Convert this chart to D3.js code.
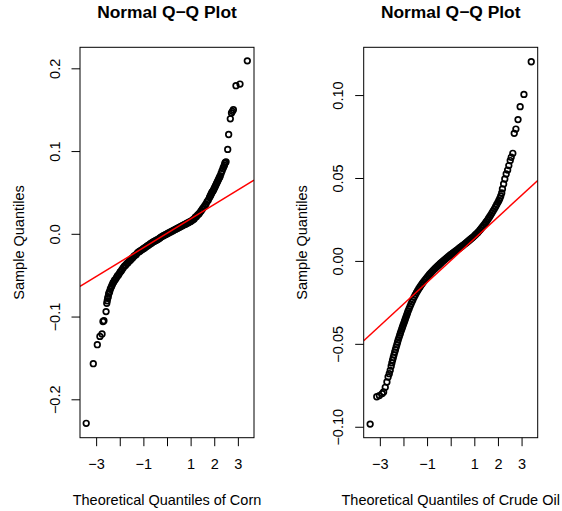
<!DOCTYPE html>
<html>
<head>
<meta charset="utf-8">
<script src="https://cdn.jsdelivr.net/npm/d3@7"></script>
<style>
  body { margin: 0; background: #fff; }
  svg { display: block; font-family: "Liberation Sans", Arial, sans-serif; }
</style>
</head>
<body>
<div id="chart"></div>
<script>
// [theoretical quantile, sample quantile]
const cornPoints = [
  [-3.42, -0.229], [-3.12, -0.157], [-2.95, -0.134], [-2.84, -0.124], [-2.75, -0.121],
  [-2.71, -0.106], [-2.67, -0.105], [-2.58, -0.094], [-2.55, -0.084],
  [-2.53, -0.081], [-2.51, -0.078], [-2.49, -0.076], [-2.47, -0.073], [-2.45, -0.071],
  [-2.43, -0.070], [-2.40, -0.067], [-2.37, -0.065], [-2.34, -0.063], [-2.31, -0.061],
  [-2.28, -0.059], [-2.25, -0.058], [-2.22, -0.056], [-2.18, -0.055], [-2.14, -0.053],
  [-2.10, -0.051], [-2.06, -0.050], [-2.02, -0.048], [-1.98, -0.046], [-1.94, -0.045],
  [-1.90, -0.043], [-1.85, -0.041], [-1.80, -0.039], [-1.75, -0.038], [-1.70, -0.036],
  [-1.65, -0.035], [-1.60, -0.033], [-1.55, -0.032], [-1.50, -0.030], [-1.45, -0.029],
  [-1.40, -0.027], [-1.35, -0.026], [-1.30, -0.025], [-1.25, -0.023], [-1.20, -0.022],
  [-1.15, -0.021], [-1.10, -0.020], [-1.05, -0.019], [-1.00, -0.018], [-0.95, -0.017],
  [-0.90, -0.016], [-0.85, -0.015], [-0.80, -0.014], [-0.75, -0.013], [-0.70, -0.012],
  [-0.65, -0.011], [-0.60, -0.010], [-0.55, -0.0093], [-0.50, -0.0085], [-0.45, -0.0078],
  [-0.40, -0.0070], [-0.35, -0.0060], [-0.30, -0.0050], [-0.25, -0.0040], [-0.20, -0.0030],
  [-0.15, -0.0023], [-0.10, -0.0015], [-0.05, -0.0008], [0.00, 0.0000], [0.05, 0.0008],
  [0.10, 0.0015], [0.15, 0.0023], [0.20, 0.0030], [0.25, 0.0038], [0.30, 0.0045],
  [0.35, 0.0053], [0.40, 0.0060], [0.45, 0.0068], [0.50, 0.0075], [0.55, 0.0083],
  [0.60, 0.0090], [0.65, 0.0098], [0.70, 0.0105], [0.75, 0.0113], [0.80, 0.0120],
  [0.85, 0.0128], [0.90, 0.0135], [0.95, 0.0143], [1.00, 0.0150], [1.05, 0.016],
  [1.10, 0.017], [1.15, 0.018], [1.20, 0.020], [1.25, 0.021], [1.30, 0.023],
  [1.35, 0.024], [1.40, 0.026], [1.45, 0.028], [1.50, 0.030], [1.55, 0.032],
  [1.60, 0.034], [1.65, 0.036], [1.70, 0.039], [1.75, 0.041], [1.80, 0.044],
  [1.83, 0.0455], [1.85, 0.047], [1.88, 0.0485], [1.90, 0.050], [1.93, 0.051],
  [1.95, 0.052], [1.98, 0.0535], [2.00, 0.055], [2.03, 0.0565], [2.05, 0.058],
  [2.08, 0.0595], [2.10, 0.061], [2.13, 0.0625], [2.15, 0.064], [2.18, 0.0655],
  [2.20, 0.067], [2.23, 0.0685], [2.25, 0.070], [2.29, 0.073], [2.33, 0.076],
  [2.37, 0.079], [2.40, 0.081], [2.43, 0.083], [2.45, 0.085], [2.47, 0.0862],
  [2.50, 0.087], [2.57, 0.102], [2.61, 0.120], [2.68, 0.139], [2.73, 0.146],
  [2.77, 0.148], [2.81, 0.150], [2.92, 0.179], [3.09, 0.181], [3.40, 0.209]
];

const oilPoints = [
  [-3.41, -0.0984], [-3.13, -0.0819], [-3.02, -0.0812], [-2.90, -0.0800], [-2.84, -0.0790],
  [-2.77, -0.0762], [-2.70, -0.0730], [-2.65, -0.0700], [-2.60, -0.0680], [-2.56, -0.0660],
  [-2.52, -0.0635], [-2.49, -0.0615], [-2.46, -0.0598], [-2.43, -0.0582], [-2.40, -0.0566],
  [-2.37, -0.0550], [-2.34, -0.0535], [-2.31, -0.0520], [-2.28, -0.0505], [-2.25, -0.0490],
  [-2.22, -0.0476], [-2.19, -0.0462], [-2.16, -0.0449], [-2.13, -0.0436], [-2.10, -0.0423],
  [-2.07, -0.0410], [-2.04, -0.0398], [-2.01, -0.0386], [-1.98, -0.0374], [-1.95, -0.0362],
  [-1.92, -0.0350], [-1.89, -0.0338], [-1.86, -0.0326], [-1.83, -0.0314], [-1.80, -0.0302],
  [-1.76, -0.0288], [-1.72, -0.0274], [-1.68, -0.0260], [-1.64, -0.0247], [-1.60, -0.0234],
  [-1.55, -0.0219], [-1.50, -0.0205], [-1.45, -0.0192], [-1.40, -0.0180], [-1.35, -0.0168],
  [-1.30, -0.0157], [-1.25, -0.0146], [-1.20, -0.0136], [-1.15, -0.0126], [-1.10, -0.0117],
  [-1.05, -0.0108], [-1.00, -0.0099], [-0.95, -0.0090], [-0.90, -0.0082], [-0.85, -0.0074],
  [-0.80, -0.0066], [-0.75, -0.0058], [-0.70, -0.0051], [-0.65, -0.0044], [-0.60, -0.0037],
  [-0.55, -0.0030], [-0.50, -0.0024], [-0.45, -0.0017], [-0.40, -0.0011], [-0.35, -0.0004],
  [-0.30, 0.0002], [-0.25, 0.0008], [-0.20, 0.0014], [-0.15, 0.0020], [-0.10, 0.0026],
  [-0.05, 0.0031], [0.00, 0.0037], [0.05, 0.0042], [0.10, 0.0048], [0.15, 0.0053],
  [0.20, 0.0059], [0.25, 0.0064], [0.30, 0.0070], [0.35, 0.0075], [0.40, 0.0081],
  [0.45, 0.0086], [0.50, 0.0092], [0.55, 0.0097], [0.60, 0.0103], [0.65, 0.0108],
  [0.70, 0.0114], [0.75, 0.0120], [0.80, 0.0126], [0.85, 0.0132], [0.90, 0.0138],
  [0.95, 0.0144], [1.00, 0.0151], [1.05, 0.0158], [1.10, 0.0165], [1.15, 0.0172],
  [1.20, 0.0180], [1.25, 0.0188], [1.30, 0.0197], [1.35, 0.0206], [1.40, 0.0215],
  [1.45, 0.0225], [1.50, 0.0235], [1.55, 0.0245], [1.60, 0.0256], [1.65, 0.0267],
  [1.70, 0.0278], [1.75, 0.0290], [1.80, 0.0302], [1.85, 0.0314], [1.90, 0.0327],
  [1.95, 0.0340], [2.00, 0.0353], [2.04, 0.0365], [2.08, 0.0377], [2.12, 0.0392],
  [2.16, 0.0410], [2.19, 0.0434], [2.24, 0.0464], [2.29, 0.0494], [2.35, 0.0524],
  [2.41, 0.0548], [2.46, 0.0575], [2.52, 0.0605], [2.56, 0.0625], [2.63, 0.0649],
  [2.69, 0.0769], [2.76, 0.0795], [2.85, 0.0852], [2.94, 0.0930], [3.10, 0.1004],
  [3.41, 0.1201]
];

// qqline: [intercept, slope]
const cornLine = [0.0006, 0.01743];
const oilLine = [0.0002, 0.01312];

const xTicks = [-3, -2, -1, 0, 1, 2, 3];
const xTickLabels = [-3, -1, 1, 2, 3]; // R drops the ones that would overlap
const cornYTicks = [-0.2, -0.1, 0.0, 0.1, 0.2];
const oilYTicks = [-0.10, -0.05, 0.00, 0.05, 0.10];

const mainTitle = 'Normal Q\u2212Q Plot';
const yTitle = 'Sample Quantiles';

const width = 562;
const height = 511;

const svg = d3.select('#chart')
  .append('svg')
  .attr('width', width)
  .attr('height', height);

const drawPanel = ({ left, right, points, line, yDomain, yTicks, yFmt, xTitle, yTitleX, tickLabelX }) => {
  const top = 47.3;
  const bottom = 437.7;
  const x = d3.scaleLinear().domain([-3.683, 3.683]).range([left, right]);
  const y = d3.scaleLinear().domain(yDomain).range([bottom, top]);
  const g = svg.append('g');

  const clipId = `clip${Math.round(left)}`;
  g.append('clipPath').attr('id', clipId)
    .append('rect')
    .attr('x', left).attr('y', top)
    .attr('width', right - left).attr('height', bottom - top);

  // points
  g.append('g')
    .selectAll('circle')
    .data(points)
    .enter()
    .append('circle')
    .attr('cx', (d) => x(d[0]))
    .attr('cy', (d) => y(d[1]))
    .attr('r', 2.8)
    .attr('fill', 'none')
    .attr('stroke', '#000')
    .attr('stroke-width', 1.7);

  // reference line
  const [a, b] = line;
  const [x0, x1] = x.domain();
  g.append('line')
    .attr('clip-path', `url(#${clipId})`)
    .attr('x1', x(x0)).attr('y1', y(a + b * x0))
    .attr('x2', x(x1)).attr('y2', y(a + b * x1))
    .attr('stroke', '#ff0000')
    .attr('stroke-width', 1.5);

  // box
  g.append('rect')
    .attr('x', left).attr('y', top)
    .attr('width', right - left).attr('height', bottom - top)
    .attr('fill', 'none')
    .attr('stroke', '#000')
    .attr('stroke-width', 1);

  // x axis
  const xAxis = g.append('g')
    .attr('transform', `translate(0,${bottom})`)
    .call(d3.axisBottom(x)
      .tickValues(xTicks)
      .tickSize(8.5)
      .tickPadding(0)
      .tickFormat((d) => (xTickLabels.includes(d) ? d3.format('')(d) : '')));
  xAxis.select('.domain').remove();
  xAxis.selectAll('line').attr('stroke', '#000');
  xAxis.selectAll('text')
    .attr('y', 0)
    .attr('dy', 0)
    .attr('transform', 'translate(0,31.5)')
    .attr('fill', '#000')
    .style('font-size', '14.5px')
    .style('font-family', '"Liberation Sans", Arial, sans-serif');

  // y axis
  const yAxis = g.append('g')
    .attr('transform', `translate(${left},0)`)
    .call(d3.axisLeft(y)
      .tickValues(yTicks)
      .tickSize(8.5)
      .tickFormat(d3.format(yFmt)));
  yAxis.select('.domain').remove();
  yAxis.selectAll('line').attr('stroke', '#000');
  yAxis.selectAll('text')
    .attr('x', 0)
    .attr('dy', 0)
    .attr('text-anchor', 'middle')
    .attr('transform', `translate(${tickLabelX - left},0) rotate(-90)`)
    .attr('fill', '#000')
    .style('font-size', '14.5px')
    .style('font-family', '"Liberation Sans", Arial, sans-serif');

  // titles
  const cx = (left + right) / 2;
  g.append('text')
    .attr('x', cx).attr('y', 17.5)
    .attr('text-anchor', 'middle')
    .style('font-size', '17.4px')
    .style('font-weight', 'bold')
    .text(mainTitle);

  g.append('text')
    .attr('x', cx).attr('y', 505)
    .attr('text-anchor', 'middle')
    .style('font-size', '14.5px')
    .text(xTitle);

  g.append('text')
    .attr('transform', `translate(${yTitleX},${(top + bottom) / 2}) rotate(-90)`)
    .attr('text-anchor', 'middle')
    .style('font-size', '14.5px')
    .text(yTitle);
};

drawPanel({
  left: 80,
  right: 254,
  points: cornPoints,
  line: cornLine,
  yDomain: [-0.2464, 0.2254],
  yTicks: cornYTicks,
  yFmt: '.1f',
  xTitle: 'Theoretical Quantiles of Corn',
  yTitleX: 24,
  tickLabelX: 59.5,
});

drawPanel({
  left: 363.7,
  right: 537.7,
  points: oilPoints,
  line: oilLine,
  yDomain: [-0.1066, 0.1288],
  yTicks: oilYTicks,
  yFmt: '.2f',
  xTitle: 'Theoretical Quantiles of Crude Oil',
  yTitleX: 306.6,
  tickLabelX: 343,
});
</script>
</body>
</html>
